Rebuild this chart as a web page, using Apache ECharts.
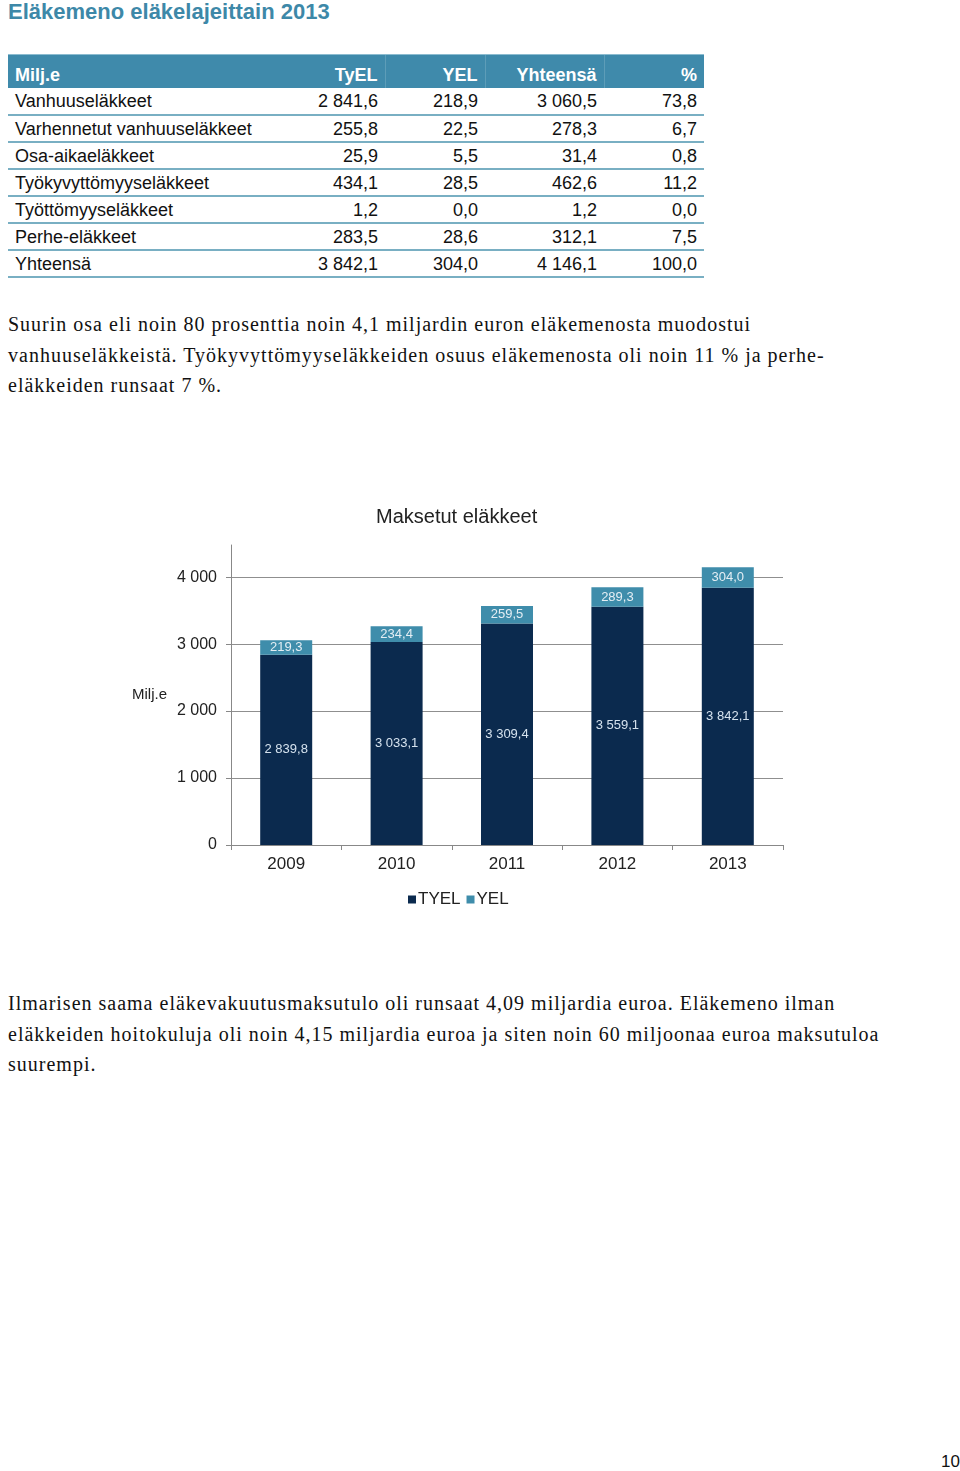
<!DOCTYPE html>
<html>
<head>
<meta charset="utf-8">
<script src="https://cdn.jsdelivr.net/npm/echarts@6/dist/echarts.min.js"></script>
<style>
  html, body { margin: 0; padding: 0; background: #fff; }
  body { width: 960px; height: 1471px; position: relative; overflow: hidden; }
  #title { position: absolute; left: 8px; top: -1px; font: bold 22px "Liberation Sans", Arial, sans-serif; color: #3d88a8; }
  #tbl { position: absolute; left: 8px; top: 54px; border-collapse: collapse; font: 18px "Liberation Sans", Arial, sans-serif; color: #111; }
  #tbl th { background: #3f8aab; color: #fff; font-weight: bold; height: 33px; padding: 0 7px; text-align: right; vertical-align: bottom; padding-bottom: 2px; box-sizing: border-box; border-left: 1px solid #5d9db8; border-top: 1px solid #8cbcd0; }
  #tbl th:first-child { text-align: left; border-left: none; }
  #tbl th:nth-child(2) { border-left: none; }
  #tbl td { height: 27px; padding: 0 7px; text-align: right; border-bottom: 2px solid #79afc3; box-sizing: border-box; vertical-align: middle; padding-top: 2px; }
  #tbl td:first-child { text-align: left; }
  .para { position: absolute; left: 8px; font: 20px "Liberation Serif", "Times New Roman", serif; color: #111; line-height: 30.5px; white-space: pre; letter-spacing: 1.0px; }
  #chart { position: absolute; left: 0; top: 480px; width: 960px; height: 440px; }
  #pageno { position: absolute; left: 941px; top: 1452px; font: 17px "Liberation Sans", Arial, sans-serif; color: #111; }
</style>
</head>
<body>
<div id="title">Eläkemeno eläkelajeittain 2013</div>
<table id="tbl"></table>
<div class="para" id="p1" style="top:309px;">Suurin osa eli noin 80 prosenttia noin 4,1 miljardin euron eläkemenosta muodostui
vanhuuseläkkeistä. Työkyvyttömyyseläkkeiden osuus eläkemenosta oli noin 11 % ja perhe-
eläkkeiden runsaat 7 %.</div>
<div id="chart"></div>
<div class="para" id="p2" style="top:988px;">Ilmarisen saama eläkevakuutusmaksutulo oli runsaat 4,09 miljardia euroa. Eläkemeno ilman
eläkkeiden hoitokuluja oli noin 4,15 miljardia euroa ja siten noin 60 miljoonaa euroa maksutuloa
suurempi.</div>
<div id="pageno">10</div>
<script>
// ---- Table data ----
var tableHeader = ["Milj.e", "TyEL", "YEL", "Yhteensä", "%"];
var rowLabels = ["Vanhuuseläkkeet", "Varhennetut vanhuuseläkkeet", "Osa-aikaeläkkeet", "Työkyvyttömyyseläkkeet", "Työttömyyseläkkeet", "Perhe-eläkkeet", "Yhteensä"];
var tyelValues = [2841.6, 255.8, 25.9, 434.1, 1.2, 283.5, 3842.1];
var yelValues = [218.9, 22.5, 5.5, 28.5, 0.0, 28.6, 304.0];
var totalValues = [3060.5, 278.3, 31.4, 462.6, 1.2, 312.1, 4146.1];
var pctValues = [73.8, 6.7, 0.8, 11.2, 0.0, 7.5, 100.0];

// ---- Chart data ----
var years = ["2009", "2010", "2011", "2012", "2013"];
var tyelSeries = [2839.8, 3033.1, 3309.4, 3559.1, 3842.1];
var yelSeries = [219.3, 234.4, 259.5, 289.3, 304.0];

function fmt(v) {
  var s = Math.abs(v).toFixed(1).split('.');
  var i = s[0].replace(/\B(?=(\d{3})+(?!\d))/g, ' ');
  return (v < 0 ? '-' : '') + i + ',' + s[1];
}

// Build table
(function () {
  var t = document.getElementById('tbl');
  var colW = [277, 100, 100, 119, 100];
  var html = '<colgroup>' + colW.map(function (w) { return '<col style="width:' + w + 'px">'; }).join('') + '</colgroup>';
  html += '<tr>' + tableHeader.map(function (h) { return '<th>' + h + '</th>'; }).join('') + '</tr>';
  for (var r = 0; r < rowLabels.length; r++) {
    html += '<tr><td>' + rowLabels[r] + '</td><td>' + fmt(tyelValues[r]) + '</td><td>' + fmt(yelValues[r]) +
      '</td><td>' + fmt(totalValues[r]) + '</td><td>' + fmt(pctValues[r]) + '</td></tr>';
  }
  t.innerHTML = html;
  t.style.width = colW.reduce(function (a, b) { return a + b; }, 0) + 'px';
  t.style.tableLayout = 'fixed';
})();

var chart = echarts.init(document.getElementById('chart'), null, { renderer: 'canvas' });
var font = '"Liberation Sans", Arial, sans-serif';
var narrow = '"Liberation Sans Narrow", "Arial Narrow", "Liberation Sans", sans-serif';
chart.setOption({
  animation: false,
  title: {
    text: 'Maksetut eläkkeet',
    left: 371, top: 22,
    textStyle: { fontFamily: font, fontSize: 20, fontWeight: 'normal', color: '#222' }
  },
  legend: {
    data: ['TYEL', 'YEL'],
    left: 403, top: 406,
    icon: 'rect', itemWidth: 8, itemHeight: 8, itemGap: 6,
    textStyle: { fontFamily: font, fontSize: 17, color: '#222', padding: [0, 0, 0, -3] }
  },
  grid: { left: 231, right: 177, top: 65, bottom: 75, containLabel: false },
  xAxis: {
    type: 'category',
    data: years,
    axisLine: { lineStyle: { color: '#888', width: 1 } },
    axisTick: { show: true, length: 5, lineStyle: { color: '#888' } },
    axisLabel: { fontFamily: font, fontSize: 17, color: '#222', margin: 11 }
  },
  yAxis: {
    type: 'value',
    min: 0, max: 4480, interval: 1000,
    name: 'Milj.e', nameLocation: 'middle', nameRotate: 0, nameGap: 64,
    nameTextStyle: { fontFamily: font, fontSize: 15, color: '#222', align: 'right' },
    axisLine: { show: true, lineStyle: { color: '#888' } },
    axisTick: { show: true, length: 5, lineStyle: { color: '#888' } },
    axisLabel: {
      fontFamily: font, fontSize: 16, color: '#222', margin: 14, showMaxLabel: false,
      formatter: function (v) { return String(v).replace(/\B(?=(\d{3})+(?!\d))/g, ' '); }
    },
    splitLine: { show: true, showMaxLine: false, lineStyle: { color: '#8f8f8f', width: 1 } }
  },
  series: [
    {
      name: 'TYEL', type: 'bar', stack: 'total', data: tyelSeries, barWidth: 52,
      itemStyle: { color: '#0b2a4e' },
      label: { show: true, position: 'inside', color: '#d5e2ee', fontFamily: narrow, fontSize: 13,
        formatter: function (p) { return fmt(p.value); } }
    },
    {
      name: 'YEL', type: 'bar', stack: 'total', data: yelSeries, barWidth: 52,
      itemStyle: { color: '#3f8dab' },
      label: { show: true, position: 'inside', color: '#e4eef4', fontFamily: narrow, fontSize: 13,
        formatter: function (p) { return fmt(p.value); } }
    }
  ]
});
</script>
</body>
</html>
